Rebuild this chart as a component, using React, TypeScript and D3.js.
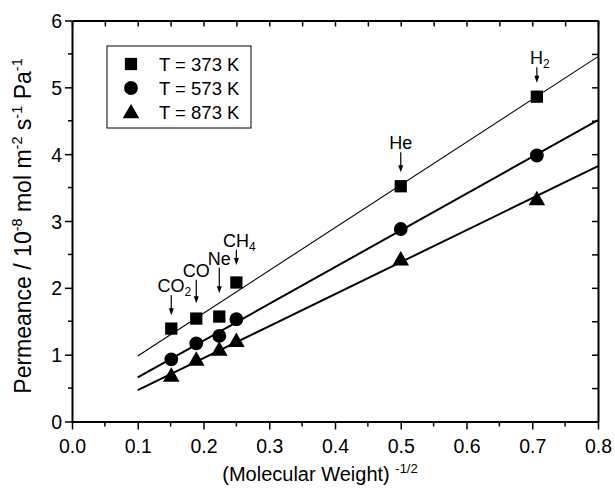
import React, { useEffect, useRef } from 'react';
import * as d3 from 'd3';

// gases, x = (molecular weight)^-1/2
const gasNames = ['CO2', 'CO', 'Ne', 'CH4', 'He', 'H2'];
const invSqrtMW = [0.151, 0.189, 0.224, 0.25, 0.5, 0.707];

// permeance, 10^-8 mol m-2 s-1 Pa-1
const perm373 = [1.39, 1.54, 1.57, 2.08, 3.52, 4.86];
const perm573 = [0.93, 1.17, 1.28, 1.53, 2.88, 3.98];
const perm873 = [0.69, 0.93, 1.08, 1.21, 2.43, 3.33];

// fitted lines (end points)
const fitX = [0.1, 0.8];
const fit373 = [0.98, 5.46];
const fit573 = [0.66, 4.51];
const fit873 = [0.47, 3.82];

// annotation arrows, start / end in y units
const arrowFrom = [1.89, 2.12, 2.3, 2.57, 4.03, 5.3];
const arrowTo = [1.59, 1.77, 1.92, 2.34, 3.73, 5.07];

const legendLabels = ['T = 373 K', 'T = 573 K', 'T = 873 K'];
const xTickValues = [0, 0.1, 0.2, 0.3, 0.4, 0.5, 0.6, 0.7, 0.8];
const yTickValues = [0, 1, 2, 3, 4, 5, 6];

const FONT = '"Liberation Sans", Arial, sans-serif';

export default function App() {
    const svgRef = useRef<SVGSVGElement>(null);

    useEffect(() => {
        const svg = d3.select(svgRef.current);
        svg.selectAll('*').remove();

        const left = 72, right = 598, top = 20.5, bottom = 421.5;

        const x = d3.scaleLinear().domain([0, 0.8]).range([left, right]);
        const y = d3.scaleLinear().domain([0, 6]).range([bottom, top]);

        const minorX = d3.range(0, 0.8001, 0.05);
        const minorY = d3.range(0, 6.001, 0.5);

        // axes
        const bottomAxis = svg.append('g')
            .attr('transform', `translate(0,${bottom})`)
            .call(d3.axisBottom(x).tickValues(xTickValues).tickFormat(d3.format('.1f')).tickSize(8).tickSizeOuter(0));
        bottomAxis.selectAll('text')
            .attr('font-size', '19.5px').attr('font-family', FONT).attr('fill', '#000')
            .attr('y', 31).attr('dy', 0);
        bottomAxis.append('g').selectAll('line')
            .data(minorX.filter(v => Math.abs(v * 10 - Math.round(v * 10)) > 0.01))
            .enter().append('line')
            .attr('x1', d => x(d)).attr('x2', d => x(d))
            .attr('y1', 0).attr('y2', 5)
            .attr('stroke', '#000').attr('stroke-width', 1.5);

        const leftAxis = svg.append('g')
            .attr('transform', `translate(${left},0)`)
            .call(d3.axisLeft(y).tickValues(yTickValues).tickFormat(d3.format('d')).tickSize(7).tickSizeOuter(0));
        leftAxis.selectAll('text')
            .attr('font-size', '19.5px').attr('font-family', FONT).attr('fill', '#000').attr('dy', '0.36em').attr('x', -10);
        leftAxis.append('g').selectAll('line')
            .data(minorY.filter(v => v % 1 !== 0))
            .enter().append('line')
            .attr('x1', -4).attr('x2', 0)
            .attr('y1', d => y(d)).attr('y2', d => y(d))
            .attr('stroke', '#000').attr('stroke-width', 1.5);

        const topAxis = svg.append('g')
            .attr('transform', `translate(0,${top})`)
            .call(d3.axisBottom(x).tickValues(minorX).tickFormat(() => '').tickSize(6).tickSizeOuter(0));

        const rightAxis = svg.append('g')
            .attr('transform', `translate(${right},0)`)
            .call(d3.axisLeft(y).tickValues(minorY).tickFormat(() => '').tickSize(6).tickSizeOuter(0));

        [bottomAxis, leftAxis, topAxis, rightAxis].forEach(g => {
            g.select('.domain').attr('stroke', '#000').attr('stroke-width', 2);
            g.selectAll('.tick line').attr('stroke', '#000').attr('stroke-width', 1.5);
        });

        // fit lines
        const line = d3.line<number>().x((d, i) => x(fitX[i])).y(d => y(d));
        [[fit373, 1.1], [fit573, 2], [fit873, 2]].forEach(([vals, w]) => {
            svg.append('path')
                .attr('d', line(vals as number[]))
                .attr('fill', 'none')
                .attr('stroke', '#000')
                .attr('stroke-width', w as number);
        });

        // markers
        const symbols = [d3.symbolSquare, d3.symbolCircle, d3.symbolTriangle];
        const sizes = [150, 150, 120];
        [perm373, perm573, perm873].forEach((vals, k) => {
            svg.append('g').selectAll('path')
                .data(vals)
                .enter().append('path')
                .attr('d', d3.symbol(symbols[k], sizes[k]))
                .attr('transform', (d, i) => `translate(${x(invSqrtMW[i])},${y(d) + (k === 2 ? 1.5 : 0)})`)
                .attr('fill', '#000');
        });

        // annotations
        const ann = svg.append('g').attr('font-family', FONT).attr('font-size', '18px');
        gasNames.forEach((name, i) => {
            const ax = x(invSqrtMW[i]);
            const y0 = y(arrowFrom[i]);
            const y1 = y(arrowTo[i]);
            ann.append('line')
                .attr('x1', ax).attr('x2', ax)
                .attr('y1', y0).attr('y2', y1 - 5)
                .attr('stroke', '#000').attr('stroke-width', 1.2);
            ann.append('path')
                .attr('d', `M${ax - 2.5},${y1 - 7} L${ax + 2.5},${y1 - 7} L${ax},${y1} Z`)
                .attr('fill', '#000');
            const m = name.match(/^([A-Za-z]+?)(\d*)$/);
            const base = m ? m[1] : name;
            const sub = m ? m[2] : '';
            const t = ann.append('text')
                .attr('x', ax + (sub ? 3 : 0))
                .attr('y', y0 - 3)
                .attr('text-anchor', 'middle');
            t.append('tspan').text(base);
            if (sub) {
                t.append('tspan').attr('font-size', '12px').attr('dy', 4).text(sub);
            }
        });

        // legend
        const lg = svg.append('g');
        lg.append('rect')
            .attr('x', 107).attr('y', 46).attr('width', 144).attr('height', 82)
            .attr('fill', '#fff').attr('stroke', '#000').attr('stroke-width', 1);
        legendLabels.forEach((lab, k) => {
            const ry = 64 + k * 24;
            lg.append('path')
                .attr('d', d3.symbol(symbols[k], sizes[k])())
                .attr('transform', `translate(131,${ry + (k === 2 ? 1.5 : 0)})`)
                .attr('fill', '#000');
            lg.append('text')
                .attr('x', 159).attr('y', ry + 6.5)
                .attr('font-family', FONT).attr('font-size', '18.5px')
                .text(lab);
        });

        // axis titles
        const xt = svg.append('text')
            .attr('x', 320).attr('y', 481)
            .attr('text-anchor', 'middle')
            .attr('font-family', FONT).attr('font-size', '20px');
        xt.append('tspan').text('(Molecular Weight) ');
        xt.append('tspan').attr('font-size', '13px').attr('dy', -8).text('-1/2');

        const yt = svg.append('text')
            .attr('transform', 'translate(31,226) rotate(-90)')
            .attr('text-anchor', 'middle')
            .attr('font-family', FONT).attr('font-size', '23px');
        const parts: [string, boolean][] = [
            ['Permeance / 10', false], ['-8', true], [' mol m', false], ['-2', true],
            [' s', false], ['-1', true], [' Pa', false], ['-1', true],
        ];
        parts.forEach(([s, sup], i) => {
            const prevSup = i > 0 && parts[i - 1][1];
            yt.append('tspan')
                .attr('font-size', sup ? '14.5px' : '23px')
                .attr('dy', sup ? -9 : prevSup ? 9 : 0)
                .text(s);
        });
    }, []);

    return (
        <svg
            ref={svgRef}
            width={615}
            height={489}
            style={{ position: 'absolute', left: 0, top: 0, background: '#fff' }}
        />
    );
}
